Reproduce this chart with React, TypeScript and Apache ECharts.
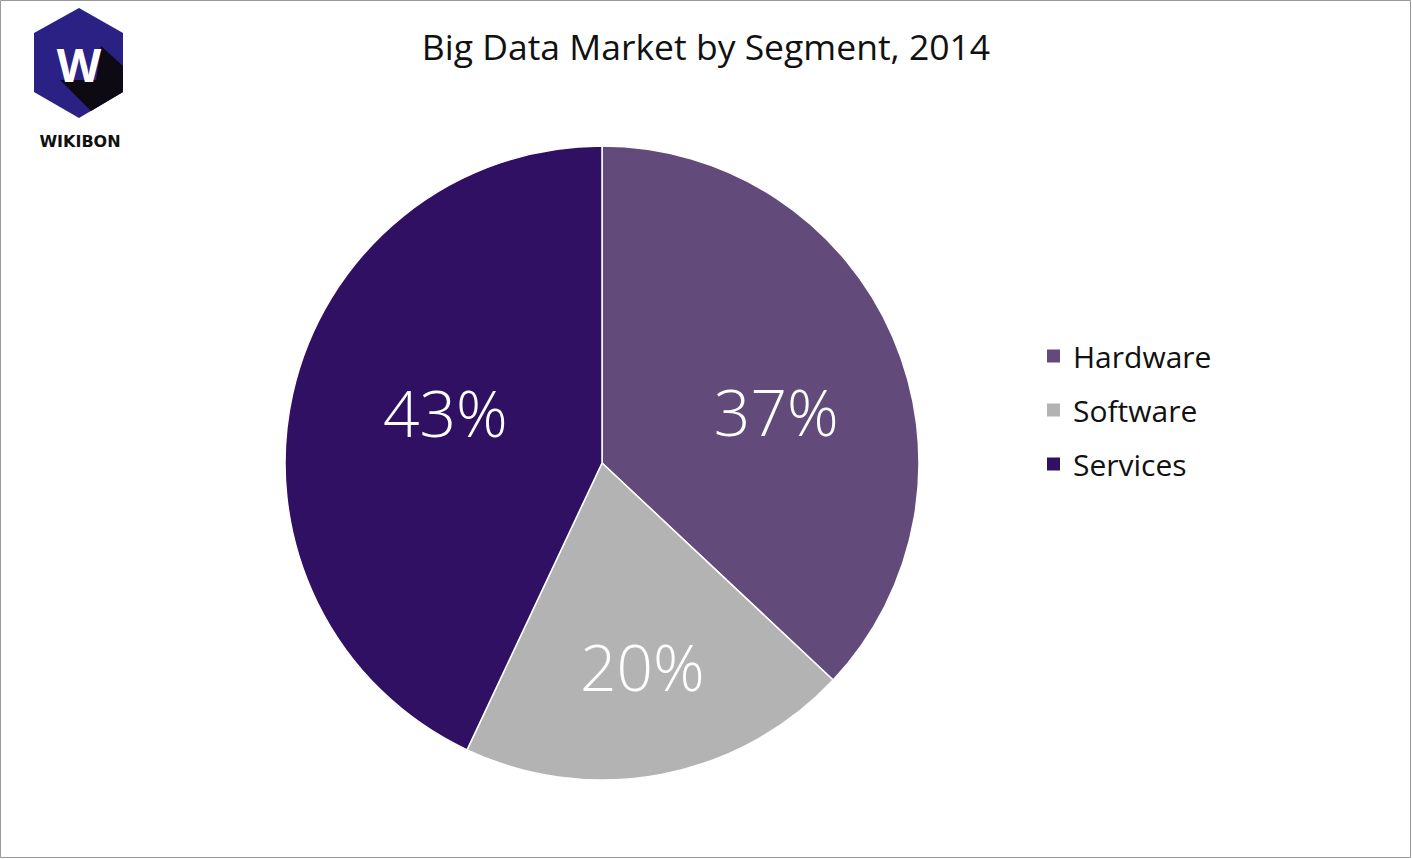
import { useEffect, useRef } from "react";
import * as echarts from "echarts";

const segments = ["Hardware", "Software", "Services"];
const shares = [37, 20, 43];
const colors = ["#624b7b", "#b3b3b3", "#2f1062"];
const labelOffsets = [[26, 13], [10, 45], [1, -15]];

function App() {
  const chartRef = useRef<HTMLDivElement>(null);

  useEffect(() => {
    if (!chartRef.current) return;
    const chart = echarts.init(chartRef.current, null, { renderer: "svg" });
    const font = "'Open Sans', 'Liberation Sans', sans-serif";
    chart.setOption({
      animation: false,
      backgroundColor: "#fff",
      title: {
        text: "Big Data Market by Segment, 2014",
        left: "center",
        top: 23,
        textStyle: { fontFamily: font, fontSize: 35.5, fontWeight: "normal", color: "#111" },
      },
      legend: {
        orient: "vertical",
        left: 1040,
        top: 336,
        itemWidth: 15,
        itemHeight: 15,
        itemGap: 24,
        icon: "rect",
        textStyle: { fontFamily: font, fontSize: 30, color: "#111", padding: [0, 0, 0, 7] },
        data: segments,
      },
      graphic: [
        {
          type: "rect",
          shape: { x: 0.5, y: 0.5, width: 1410, height: 857 },
          style: { fill: "none", stroke: "#999", lineWidth: 1 },
        },
        {
          type: "polygon",
          shape: { points: [[79, 8], [123, 33], [123, 92], [79, 118], [34, 92], [34, 33]] },
          style: { fill: "#2b2185" },
        },
        {
          type: "polygon",
          shape: { points: [[101, 46], [123, 66], [123, 92], [91, 111], [60, 80], [96, 80]] },
          style: { fill: "#0d0a14" },
        },
        {
          type: "text",
          x: 79,
          y: 64,
          style: {
            text: "W",
            fill: "#fff",
            font: "bold 46px 'Open Sans', sans-serif",
            align: "center",
            verticalAlign: "middle",
          },
        },
        {
          type: "text",
          x: 80,
          y: 141,
          style: {
            text: "WIKIBON",
            fill: "#111",
            font: "bold 16px 'DejaVu Sans', sans-serif",
            align: "center",
            verticalAlign: "middle",
          },
        },
      ],
      series: [
        {
          type: "pie",
          center: [602, 463],
          radius: 317,
          startAngle: 90,
          clockwise: true,
          label: {
            position: "inside",
            formatter: "{c}%",
            color: "#fff",
            fontFamily: font,
            fontSize: 64,
            fontWeight: 300,
          },
          labelLine: { show: false },
          emphasis: { disabled: true },
          itemStyle: { borderColor: "#fff", borderWidth: 1.5 },
          data: segments.map((name, i) => ({
            name,
            value: shares[i],
            itemStyle: { color: colors[i] },
            label: { offset: labelOffsets[i] },
          })),
        },
      ],
    });
    return () => chart.dispose();
  }, []);

  return (
    <div
      ref={chartRef}
      style={{ position: "fixed", left: 0, top: 0, width: 1412, height: 859 }}
    />
  );
}

export default App;
